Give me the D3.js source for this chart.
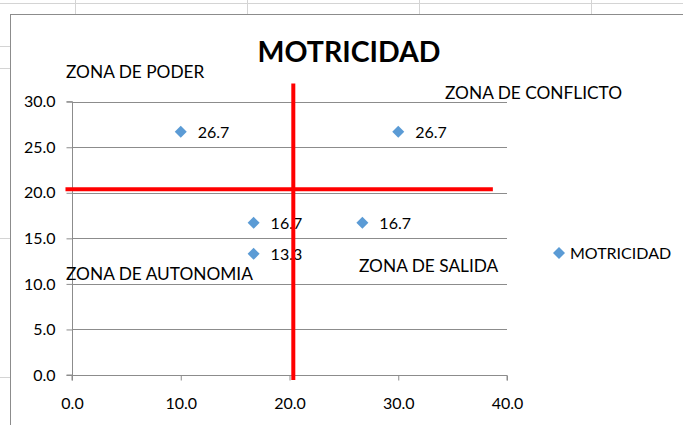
<!DOCTYPE html>
<html>
<head>
<meta charset="utf-8">
<script src="https://cdn.jsdelivr.net/npm/d3@7"></script>
<style>
  body { margin: 0; background: #fff; }
  text { font-family: Lato, "Open Sans", sans-serif; fill: #000; }
</style>
</head>
<body>
<div id="plot"></div>
<script>
// values
var xVals = [10.0, 30.0, 16.7, 26.7, 16.7],
    yVals = [26.7, 26.7, 16.7, 16.7, 13.3];
var xTicks = [0, 10, 20, 30, 40],
    yTicks = [0, 5, 10, 15, 20, 25, 30];
// red divider lines (in data units)
var dividerX = [20.35],
    dividerY = [20.4];
var zones = ["ZONA DE PODER", "ZONA DE CONFLICTO", "ZONA DE AUTONOMIA", "ZONA DE SALIDA"];
var seriesName = "MOTRICIDAD";

var W = 683, H = 425;
var blue = "#5b9bd5", grid = "#8c8c8c";

var svg = d3.select("#plot").append("svg")
    .attr("width", W)
    .attr("height", H);

// spreadsheet behind the chart
var sheet = svg.append("g").attr("stroke", "#d4d4d4").attr("stroke-width", 1);
sheet.append("line").attr("x1", 0).attr("x2", W).attr("y1", 3.5).attr("y2", 3.5);
[75, 247, 419, 591].forEach(function(cx) {
  sheet.append("line").attr("x1", cx + 0.5).attr("x2", cx + 0.5).attr("y1", 0).attr("y2", 14);
});
[46, 68, 238, 377].forEach(function(cy) {
  sheet.append("line").attr("x1", 0).attr("x2", 10).attr("y1", cy + 0.5).attr("y2", cy + 0.5);
});

// chart box
svg.append("rect")
    .attr("x", 10.5).attr("y", 14.5)
    .attr("width", W).attr("height", H)
    .attr("fill", "#fff")
    .attr("stroke", "#8c8c8c");

var x = d3.scaleLinear().domain([0, 40]).range([72, 507]),
    y = d3.scaleLinear().domain([0, 30]).range([375, 101.7]);

// gridlines
svg.append("g").selectAll("line")
  .data(yTicks.filter(function(d) { return d > 0; }))
  .join("line")
    .attr("x1", x(0)).attr("x2", x(40))
    .attr("y1", function(d) { return Math.round(y(d)) + 0.5; })
    .attr("y2", function(d) { return Math.round(y(d)) + 0.5; })
    .attr("stroke", grid);

// axes
var xAxis = svg.append("g")
    .attr("transform", "translate(0," + (Math.round(y(0)) + 0.5) + ")")
    .call(d3.axisBottom(x).tickValues(xTicks).tickFormat(d3.format(".1f")).tickSize(5).tickPadding(17));
var yAxis = svg.append("g")
    .attr("transform", "translate(" + (Math.round(x(0)) + 0.5) + ",0)")
    .call(d3.axisLeft(y).tickValues(yTicks).tickFormat(d3.format(".1f")).tickSize(6).tickPadding(11));
[xAxis, yAxis].forEach(function(a) {
  a.select(".domain").attr("stroke", grid);
  a.selectAll(".tick line").attr("stroke", grid);
  a.selectAll("text").style("font-family", "Lato, sans-serif").style("font-size", "16px").attr("fill", "#000");
});
xAxis.select(".domain").attr("d", "M" + x(0) + ",5V0H" + x(40) + "V5");
yAxis.select(".domain").attr("d", "M-6," + y(30) + "H0V" + y(0) + "H-6");

// title
svg.append("text")
    .attr("x", 349).attr("y", 62)
    .attr("text-anchor", "middle")
    .style("font-size", "28.5px").style("font-weight", "bold")
    .text(seriesName);

// zone labels
var zonePos = [[66, 78], [445, 99], [66, 280], [359, 272]];
svg.append("g").selectAll("text")
  .data(zones)
  .join("text")
    .attr("x", function(d, i) { return zonePos[i][0]; })
    .attr("y", function(d, i) { return zonePos[i][1]; })
    .style("font-size", "17.3px")
    .text(function(d) { return d; });

// points
var pts = xVals.map(function(v, i) { return {x: v, y: yVals[i]}; });
var diamond = "M0,-6L6,0L0,6L-6,0Z";

svg.append("g").selectAll("path")
  .data(pts)
  .join("path")
    .attr("d", diamond)
    .attr("transform", function(d) { return "translate(" + x(d.x) + "," + y(d.y) + ")"; })
    .attr("fill", blue);

svg.append("g").selectAll("text")
  .data(pts)
  .join("text")
    .attr("x", function(d) { return x(d.x) + 17; })
    .attr("y", function(d) { return y(d.y) + 6; })
    .style("font-size", "16px")
    .text(function(d) { return d.y.toFixed(1); });

// red divider lines, on top
svg.append("line")
    .attr("x1", x(dividerX[0])).attr("x2", x(dividerX[0]))
    .attr("y1", y(32)).attr("y2", y(-0.55))
    .attr("stroke", "#ff0000").attr("stroke-width", 4);
svg.append("line")
    .attr("x1", x(-0.6)).attr("x2", x(38.7))
    .attr("y1", y(dividerY[0])).attr("y2", y(dividerY[0]))
    .attr("stroke", "#ff0000").attr("stroke-width", 4);

// legend
var legend = svg.append("g").attr("transform", "translate(559,253)");
legend.append("path").attr("d", diamond).attr("fill", blue);
legend.append("text")
    .attr("x", 11).attr("y", 6)
    .style("font-size", "16px")
    .text(seriesName);
</script>
</body>
</html>
